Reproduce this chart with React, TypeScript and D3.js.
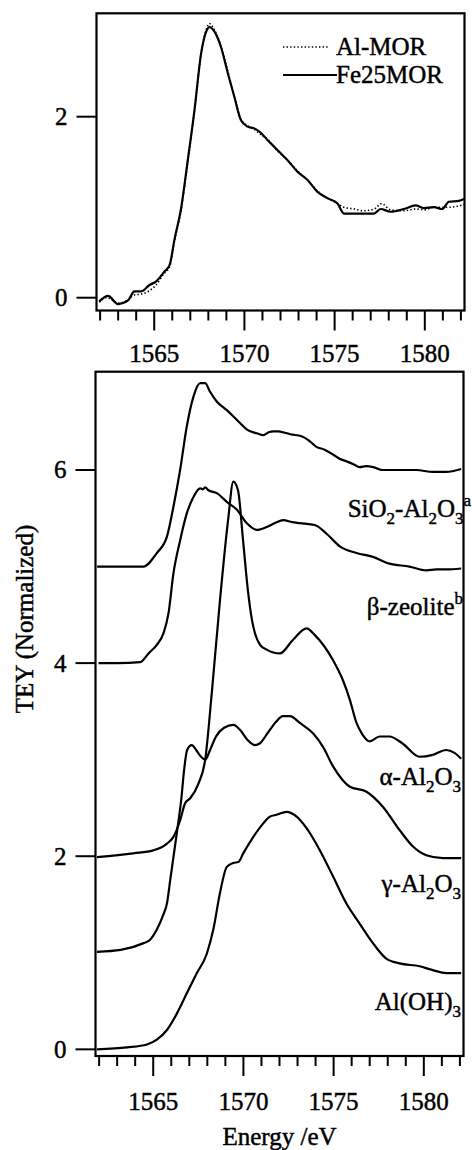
import React from 'react';
import * as d3 from 'd3';

type Pt = [number, number];

// Upper panel: Al K-edge spectra, [energy (eV), TEY]
const AL_MOR: Pt[] = [
  [1561.95, -0.05], [1562.4, 0.0], [1562.7, -0.03], [1563.0, -0.06], [1563.5, -0.03],
  [1563.9, 0.03], [1564.3, 0.04], [1564.75, 0.08], [1565.1, 0.14], [1565.55, 0.27],
  [1565.85, 0.34], [1566.12, 0.62], [1566.5, 0.98], [1566.86, 1.5], [1567.23, 2.06],
  [1567.6, 2.7], [1567.88, 2.96], [1568.06, 3.03], [1568.34, 2.96], [1568.7, 2.78],
  [1569.08, 2.5], [1569.44, 2.23], [1569.81, 1.97], [1570.18, 1.9], [1570.55, 1.86],
  [1570.92, 1.8], [1571.29, 1.75], [1571.84, 1.62], [1572.39, 1.52], [1572.95, 1.4],
  [1573.5, 1.3], [1574.05, 1.18], [1574.6, 1.1], [1575.16, 1.04], [1575.5, 1.0],
  [1576.1, 0.98], [1576.6, 0.96], [1577.2, 0.98], [1577.6, 1.04], [1578.1, 0.97],
  [1578.8, 0.96], [1579.5, 0.98], [1580.0, 0.97], [1580.5, 1.0], [1581.0, 1.0],
  [1581.4, 1.0], [1581.8, 1.01], [1582.17, 1.03],
];

const FE25MOR: Pt[] = [
  [1561.95, -0.04], [1562.44, 0.02], [1562.99, -0.07], [1563.55, -0.03], [1563.9, 0.07],
  [1564.28, 0.07], [1564.74, 0.14], [1565.11, 0.18], [1565.57, 0.29], [1565.85, 0.36],
  [1566.12, 0.64], [1566.5, 1.0], [1566.86, 1.52], [1567.23, 2.07], [1567.6, 2.7],
  [1567.88, 2.94], [1568.06, 2.99], [1568.34, 2.94], [1568.7, 2.77], [1569.08, 2.48],
  [1569.44, 2.22], [1569.81, 1.96], [1570.18, 1.89], [1570.55, 1.87], [1570.92, 1.82],
  [1571.29, 1.74], [1571.84, 1.63], [1572.39, 1.52], [1572.95, 1.39], [1573.5, 1.3],
  [1574.05, 1.17], [1574.6, 1.1], [1575.16, 1.04], [1575.52, 0.93], [1576.08, 0.93],
  [1576.63, 0.93], [1577.18, 0.93], [1577.55, 0.98], [1578.1, 0.95], [1578.84, 0.98],
  [1579.49, 1.02], [1579.95, 0.99], [1580.5, 1.0], [1580.97, 0.98], [1581.33, 1.06],
  [1581.89, 1.07], [1582.17, 1.09],
];

// Lower panel: reference compounds, offset vertically
const SIO2_AL2O3: Pt[] = [
  [1561.89, 5.0], [1563.0, 5.0], [1564.46, 5.0], [1565.2, 5.14], [1565.76, 5.31],
  [1566.12, 5.62], [1566.49, 6.0], [1566.86, 6.45], [1567.23, 6.76], [1567.6, 6.9],
  [1567.88, 6.9], [1568.15, 6.81], [1568.52, 6.71], [1569.08, 6.62], [1569.63, 6.52],
  [1570.27, 6.41], [1570.74, 6.38], [1571.1, 6.36], [1571.4, 6.39], [1571.65, 6.4],
  [1571.95, 6.4], [1572.21, 6.39], [1572.6, 6.37], [1573.22, 6.35], [1573.6, 6.31],
  [1574.05, 6.24], [1574.5, 6.21], [1574.97, 6.16], [1575.3, 6.12], [1575.71, 6.09],
  [1576.1, 6.06], [1576.45, 6.03], [1576.8, 6.04], [1577.2, 6.03], [1577.7, 6.0],
  [1578.5, 6.0], [1579.58, 6.0], [1580.5, 5.98], [1581.24, 5.98], [1582.07, 6.01],
];

const BETA_ZEOLITE: Pt[] = [
  [1561.97, 4.0], [1563.0, 4.0], [1564.28, 4.01], [1564.74, 4.1], [1565.2, 4.19],
  [1565.57, 4.31], [1565.85, 4.52], [1566.12, 4.93], [1566.49, 5.27], [1566.86, 5.55],
  [1567.23, 5.72], [1567.6, 5.81], [1567.75, 5.8], [1567.88, 5.82], [1568.06, 5.79],
  [1568.52, 5.76], [1569.08, 5.67], [1569.63, 5.59], [1570.18, 5.45], [1570.74, 5.38],
  [1571.29, 5.41], [1571.75, 5.45], [1572.21, 5.48], [1572.7, 5.46], [1573.13, 5.45],
  [1573.96, 5.43], [1574.61, 5.34], [1575.34, 5.21], [1576.27, 5.14], [1577.18, 5.1],
  [1578.1, 5.03], [1579.2, 5.0], [1580.14, 4.96], [1580.7, 4.97], [1581.24, 4.97],
  [1582.07, 4.98],
];

const ALPHA_AL2O3: Pt[] = [
  [1561.88, 1.99], [1563.9, 2.03], [1565.0, 2.06], [1565.76, 2.13], [1566.12, 2.2],
  [1566.49, 2.37], [1566.77, 2.55], [1567.05, 2.6], [1567.5, 2.75], [1567.88, 3.0],
  [1568.26, 3.72], [1568.7, 4.65], [1569.15, 5.48], [1569.44, 5.88], [1569.7, 5.79],
  [1569.98, 5.27], [1570.25, 4.75], [1570.48, 4.44], [1570.64, 4.31], [1570.92, 4.19],
  [1571.29, 4.14], [1572.02, 4.1], [1572.74, 4.24], [1573.5, 4.36], [1573.96, 4.29],
  [1574.97, 4.03], [1575.5, 3.83], [1575.9, 3.62], [1576.27, 3.38], [1576.6, 3.26],
  [1577.0, 3.19], [1577.55, 3.24], [1578.1, 3.24], [1578.8, 3.17], [1579.77, 3.03],
  [1580.5, 3.05], [1581.24, 3.1], [1581.7, 3.07], [1582.07, 3.01],
];

const GAMMA_AL2O3: Pt[] = [
  [1561.88, 1.01], [1563.2, 1.03], [1564.47, 1.1], [1564.8, 1.13], [1565.2, 1.24],
  [1565.55, 1.39], [1565.76, 1.51], [1565.94, 1.75], [1566.12, 1.99], [1566.33, 2.27],
  [1566.55, 2.58], [1566.71, 2.89], [1566.88, 3.1], [1567.14, 3.15], [1567.38, 3.1],
  [1567.65, 3.03], [1567.88, 3.0], [1568.15, 3.1], [1568.48, 3.24], [1568.93, 3.33],
  [1569.44, 3.36], [1569.81, 3.31], [1570.25, 3.2], [1570.64, 3.15], [1570.92, 3.17],
  [1571.36, 3.28], [1571.8, 3.39], [1572.19, 3.45], [1572.58, 3.45], [1573.13, 3.38],
  [1573.87, 3.27], [1574.42, 3.13], [1574.97, 2.93], [1575.9, 2.72], [1576.8, 2.67],
  [1577.74, 2.51], [1578.66, 2.27], [1579.4, 2.1], [1580.14, 2.01], [1581.06, 1.98],
  [1582.07, 1.98],
];

const AL_OH_3: Pt[] = [
  [1561.88, 0.0], [1563.55, 0.02], [1564.65, 0.05], [1565.2, 0.1], [1565.76, 0.2],
  [1566.31, 0.37], [1566.86, 0.58], [1567.42, 0.79], [1567.97, 0.99], [1568.33, 1.24],
  [1568.7, 1.62], [1569.08, 1.89], [1569.44, 1.93], [1569.72, 1.94], [1569.99, 2.03],
  [1570.55, 2.2], [1571.1, 2.34], [1571.47, 2.41], [1571.84, 2.43], [1572.39, 2.46],
  [1572.95, 2.41], [1573.5, 2.29], [1574.24, 2.06], [1574.97, 1.79], [1575.71, 1.51],
  [1576.45, 1.3], [1577.18, 1.1], [1577.92, 0.94], [1578.66, 0.89], [1579.77, 0.86],
  [1580.5, 0.82], [1581.24, 0.79], [1582.07, 0.79],
];

const X_MAJOR = [1565, 1570, 1575, 1580];
const X_MINOR = [1562, 1563, 1564, 1566, 1567, 1568, 1569, 1571, 1572, 1573, 1574, 1576, 1577, 1578, 1579, 1581, 1582];
const Y_TICKS_TOP = [0, 2];
const Y_TICKS_BOTTOM = [0, 2, 4, 6];

const FONT = "'Liberation Serif', 'Times New Roman', Times, serif";
const FS = 25;
// slight stroke gives the glyphs the heavier look of printed type
const TXT: React.CSSProperties = {
  fontFamily: FONT,
  fontSize: FS,
  stroke: '#000',
  strokeWidth: 0.45,
  fill: '#000',
};
const LW = 2.2;

type Scale = d3.ScaleLinear<number, number>;

function Panel(props: {
  id: string;
  x: Scale;
  y: Scale;
  yTicks: number[];
  labelBaseline: number;
  children?: React.ReactNode;
}) {
  const { id, x, y, yTicks, labelBaseline, children } = props;
  const [x0, x1] = x.range();
  const [yb, yt] = y.range();
  return (
    <g>
      <defs>
        <clipPath id={id}>
          <rect x={x0} y={yt} width={x1 - x0} height={yb - yt} />
        </clipPath>
      </defs>
      <g clipPath={`url(#${id})`}>{children}</g>
      <rect x={x0} y={yt} width={x1 - x0} height={yb - yt} fill="none" stroke="#000" strokeWidth={2.2} />
      {X_MINOR.map((t) => (
        <line key={'m' + t} x1={x(t)} x2={x(t)} y1={yb} y2={yb + 10} stroke="#000" strokeWidth={2} />
      ))}
      {X_MAJOR.map((t) => (
        <g key={'M' + t}>
          <line x1={x(t)} x2={x(t)} y1={yb} y2={yb + 20} stroke="#000" strokeWidth={2} />
          <text x={x(t)} y={labelBaseline} textAnchor="middle" style={TXT}>
            {t}
          </text>
        </g>
      ))}
      {yTicks.map((t) => (
        <g key={'y' + t}>
          <line x1={x0 - 20} x2={x0} y1={y(t)} y2={y(t)} stroke="#000" strokeWidth={2} />
          <text x={x0 - 29} y={y(t) + 8.5} textAnchor="end" style={TXT}>
            {t}
          </text>
        </g>
      ))}
    </g>
  );
}

function Chem(props: { x: number; y: number; parts: [string, 'n' | 'sub' | 'sup'][] }) {
  const { x, y, parts } = props;
  let state: 'n' | 'sub' | 'sup' = 'n';
  return (
    <text x={x} y={y} textAnchor="end" style={TXT}>
      {parts.map(([s, k], i) => {
        const off = { n: 0, sub: 7, sup: -11 };
        const dy = off[k] - off[state];
        state = k;
        return (
          <tspan key={i} dy={dy} style={{ fontSize: k === 'n' ? FS : 17 }}>
            {s}
          </tspan>
        );
      })}
    </text>
  );
}

export default function App() {
  const xTop = d3.scaleLinear().domain([1561.8, 1582.2]).range([96.5, 464.5]);
  const yTop = d3.scaleLinear().domain([-0.1414, 3.1425]).range([310.5, 13.3]);
  const xBot = d3.scaleLinear().domain([1561.8, 1582.2]).range([95.5, 463.5]);
  const yBot = d3.scaleLinear().domain([-0.069, 7.018]).range([1056, 371.7]);

  const lineTop = d3
    .line<Pt>()
    .x((d) => xTop(d[0]))
    .y((d) => yTop(d[1]))
    .curve(d3.curveMonotoneX);
  const lineBot = d3
    .line<Pt>()
    .x((d) => xBot(d[0]))
    .y((d) => yBot(d[1]))
    .curve(d3.curveMonotoneX);

  const bottomSeries = [SIO2_AL2O3, BETA_ZEOLITE, ALPHA_AL2O3, GAMMA_AL2O3, AL_OH_3];

  return (
    <svg
      width={472}
      height={1150}
      viewBox="0 0 472 1150"
      style={{ position: 'absolute', left: 0, top: 0, display: 'block', background: '#fff' }}
    >
      <rect x={0} y={0} width={472} height={1150} fill="#fff" />

      <Panel id="clip-top" x={xTop} y={yTop} yTicks={Y_TICKS_TOP} labelBaseline={362}>
        <path d={lineTop(AL_MOR) || ''} fill="none" stroke="#000" strokeWidth={1.6} strokeDasharray="1.4 2.2" />
        <path d={lineTop(FE25MOR) || ''} fill="none" stroke="#000" strokeWidth={LW} />
      </Panel>

      {/* legend */}
      <line x1={283} x2={329} y1={47} y2={47} stroke="#000" strokeWidth={1.6} strokeDasharray="1.4 2.2" />
      <text x={336} y={55} style={TXT}>Al-MOR</text>
      <line x1={283} x2={337} y1={75} y2={75} stroke="#000" strokeWidth={LW} />
      <text x={336} y={83} style={TXT}>Fe25MOR</text>

      <Panel id="clip-bot" x={xBot} y={yBot} yTicks={Y_TICKS_BOTTOM} labelBaseline={1110}>
        {bottomSeries.map((s, i) => (
          <path key={i} d={lineBot(s) || ''} fill="none" stroke="#000" strokeWidth={LW} />
        ))}
      </Panel>

      <Chem x={471} y={517} parts={[['SiO', 'n'], ['2', 'sub'], ['-Al', 'n'], ['2', 'sub'], ['O', 'n'], ['3', 'sub'], ['a', 'sup']]} />
      <Chem x={463} y={615} parts={[['β-zeolite', 'n'], ['b', 'sup']]} />
      <Chem x={461} y={785} parts={[['α-Al', 'n'], ['2', 'sub'], ['O', 'n'], ['3', 'sub']]} />
      <Chem x={461} y={892} parts={[['γ-Al', 'n'], ['2', 'sub'], ['O', 'n'], ['3', 'sub']]} />
      <Chem x={461} y={1010} parts={[['Al(OH)', 'n'], ['3', 'sub']]} />

      <text x={279.5} y={1145} textAnchor="middle" style={TXT}>
        Energy /eV
      </text>
      <text transform="translate(33,619) rotate(-90)" textAnchor="middle" style={TXT}>
        TEY (Normalized)
      </text>
    </svg>
  );
}
